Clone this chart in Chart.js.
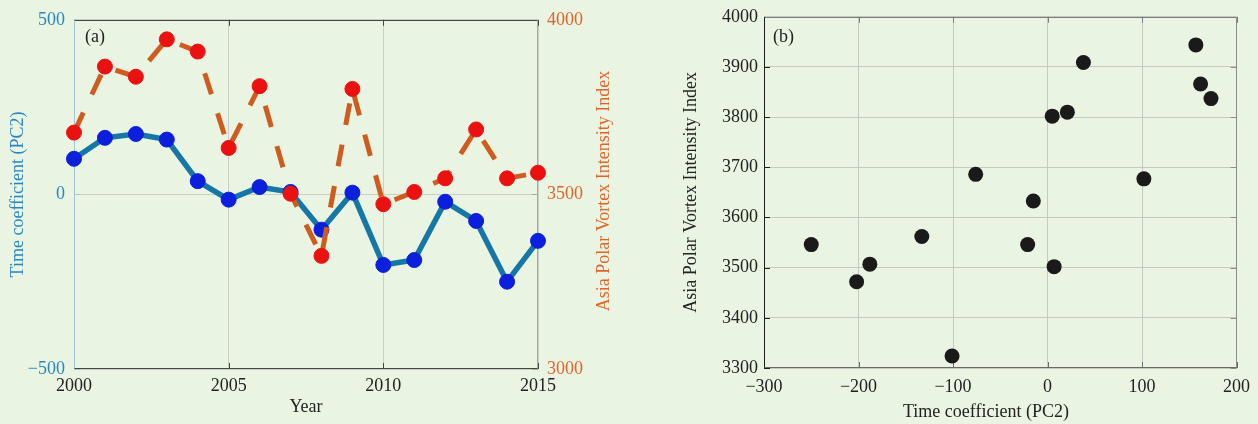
<!DOCTYPE html>
<html>
<head>
<meta charset="utf-8">
<title>PC2 and Asia Polar Vortex Intensity Index</title>
<script src="https://cdn.jsdelivr.net/npm/chart.js@4.4.1/dist/chart.umd.min.js"></script>
<style>
  html, body { margin: 0; padding: 0; background: #e9f5e2; }
  #wrap { position: relative; width: 1258px; height: 424px; overflow: hidden; background: #e9f5e2; }
  .panel { position: absolute; top: 0; height: 424px; }
  #panelA { left: 0; width: 640px; }
  #panelB { left: 640px; width: 618px; }
</style>
</head>
<body>
<div id="wrap">
  <div class="panel" id="panelA"><canvas id="chartA"></canvas></div>
  <div class="panel" id="panelB"><canvas id="chartB"></canvas></div>
</div>
<script>
// Yearly series, 2000-2015
const years = [2000, 2001, 2002, 2003, 2004, 2005, 2006, 2007,
               2008, 2009, 2010, 2011, 2012, 2013, 2014, 2015];
// Time coefficient of the second EOF mode
const pc2 = [102, 162, 173, 157, 38, -15, 21, 7,
             -101, 5, -202, -188, -21, -76, -250, -133];
// Asia Polar Vortex Intensity Index
const vortexIndex = [3677, 3866, 3837, 3944, 3909, 3633, 3810, 3502,
                     3324, 3802, 3472, 3507, 3546, 3686, 3546, 3562];

// Tick values
const yearTicks = [2000, 2005, 2010, 2015];
const pc2Ticks = [-500, 0, 500];
const indexTicks = [3000, 3500, 4000];
const scatterXTicks = [-300, -200, -100, 0, 100, 200];
const scatterYTicks = [3300, 3400, 3500, 3600, 3700, 3800, 3900, 4000];

const FONT = "'Liberation Serif', 'Times New Roman', serif";
Chart.defaults.font.family = FONT;
Chart.defaults.font.size = 18;
Chart.defaults.color = '#222222';

const fmt = v => (v < 0 ? '\u2212' + Math.abs(v) : String(v));
const fixedTicks = list => scale => { scale.ticks = list.map(v => ({ value: v })); };

// Box outline with inward tick marks on each side
const framePlugin = {
  id: 'frame',
  beforeDatasetsDraw(chart, args, o) {
    const { ctx, chartArea: a } = chart;
    const xs = chart.scales.x;
    const yl = chart.scales[o.leftScale];
    const yr = chart.scales[o.rightScale || o.leftScale];
    const L = o.tickLength;
    const seg = (c, x1, y1, x2, y2) => {
      ctx.strokeStyle = c; ctx.beginPath(); ctx.moveTo(x1, y1); ctx.lineTo(x2, y2); ctx.stroke();
    };
    ctx.save();
    ctx.lineWidth = 1;
    xs.ticks.forEach(t => {
      const px = Math.round(xs.getPixelForValue(t.value)) + 0.5;
      seg(o.top, px, a.top, px, a.top + L);
      seg(o.bottom, px, a.bottom, px, a.bottom - L);
    });
    yl.ticks.forEach(t => {
      const py = Math.round(yl.getPixelForValue(t.value)) + 0.5;
      seg(o.left, a.left, py, a.left + L, py);
    });
    yr.ticks.forEach(t => {
      const py = Math.round(yr.getPixelForValue(t.value)) + 0.5;
      seg(o.right, a.right, py, a.right - L, py);
    });
    const l = Math.round(a.left) + 0.5, r = Math.round(a.right) - 0.5;
    const t = Math.round(a.top) + 0.5, b = Math.round(a.bottom) - 0.5;
    seg(o.top, l, t, r, t);
    seg(o.bottom, l, b, r + 0.5, b);
    seg(o.left, l, t, l, b);
    seg(o.right, r, t, r, b);
    ctx.restore();
  }
};

// Free-standing captions: panel letters and titles placed by hand
const captionPlugin = {
  id: 'captions',
  afterDraw(chart, args, o) {
    const { ctx } = chart;
    (o.items || []).forEach(it => {
      ctx.save();
      ctx.font = `18px ${FONT}`;
      ctx.fillStyle = it.color || '#222222';
      ctx.textAlign = it.align || 'center';
      ctx.textBaseline = 'middle';
      ctx.translate(it.x, it.y);
      if (it.rotate) ctx.rotate(it.rotate);
      ctx.fillText(it.text, 0, 0);
      ctx.restore();
    });
  }
};

const BLUE_TXT = '#2a86c2';
const ORANGE_TXT = '#e0642a';

// (a) time series on twin y axes
new Chart(document.getElementById('chartA'), {
  type: 'line',
  data: {
    datasets: [
      {
        label: 'Asia Polar Vortex Intensity Index',
        yAxisID: 'yIndex',
        data: years.map((yr, i) => ({ x: yr, y: vortexIndex[i] })),
        borderColor: '#cf5c1f',
        borderWidth: 5,
        borderDash: [22, 20],
        borderCapStyle: 'butt',
        pointRadius: 7.5,
        pointBorderWidth: 1,
        pointBackgroundColor: '#ec1111',
        pointBorderColor: '#ec1111',
        tension: 0,
        clip: false,
        order: 0
      },
      {
        label: 'Time coefficient (PC2)',
        yAxisID: 'y',
        data: years.map((yr, i) => ({ x: yr, y: pc2[i] })),
        borderColor: '#1677a6',
        borderWidth: 5.5,
        pointRadius: 7.5,
        pointBorderWidth: 1,
        pointBackgroundColor: '#0b1fdc',
        pointBorderColor: '#0b1fdc',
        tension: 0,
        clip: false,
        order: 1
      }
    ]
  },
  options: {
    responsive: true,
    maintainAspectRatio: false,
    animation: false,
    events: [],
    layout: { padding: { top: 15, left: 0, right: 0, bottom: 0 } },
    plugins: {
      legend: { display: false },
      tooltip: { enabled: false },
      frame: { leftScale: 'y', rightScale: 'yIndex', tickLength: 6,
               top: '#444444', bottom: '#444444', left: '#a2c6d6', right: '#b3a78a' },
      captions: { items: [
        { text: '(a)', x: 85, y: 37, align: 'left' },
        { text: 'Asia Polar Vortex Intensity Index', x: 604, y: 191,
          rotate: -Math.PI / 2, color: ORANGE_TXT }
      ] }
    },
    scales: {
      x: {
        type: 'linear', min: 2000, max: 2015,
        afterBuildTicks: fixedTicks(yearTicks),
        afterFit: s => { s.height = 55; },
        grid: { color: '#c9cec6', lineWidth: 1, drawTicks: false },
        border: { display: false },
        ticks: { padding: 6, color: '#222222', callback: v => String(v), maxRotation: 0 },
        title: { display: true, text: 'Year', color: '#222222', padding: { top: 0, bottom: 6 } }
      },
      y: {
        type: 'linear', position: 'left', min: -500, max: 500,
        afterBuildTicks: fixedTicks(pc2Ticks),
        afterFit: s => { s.width = 74; },
        grid: { color: '#c9cec6', lineWidth: 1, drawTicks: false },
        border: { display: false },
        ticks: { padding: 9, color: BLUE_TXT, callback: fmt },
        title: { display: true, text: 'Time coefficient (PC2)', color: BLUE_TXT, padding: { top: 7, bottom: 0 } }
      },
      yIndex: {
        type: 'linear', position: 'right', min: 3000, max: 4000,
        afterBuildTicks: fixedTicks(indexTicks),
        afterFit: s => { s.width = 102; },
        grid: { display: false, drawTicks: false },
        border: { display: false },
        ticks: { padding: 9, color: ORANGE_TXT, callback: fmt }
      }
    }
  },
  plugins: [framePlugin, captionPlugin]
});

// (b) index against PC2
new Chart(document.getElementById('chartB'), {
  type: 'scatter',
  data: {
    datasets: [{
      label: 'Index vs PC2',
      data: pc2.map((v, i) => ({ x: v, y: vortexIndex[i] })),
      pointRadius: 7.5,
      pointBorderWidth: 0,
      pointBackgroundColor: '#1b1a1a',
      clip: false
    }]
  },
  options: {
    responsive: true,
    maintainAspectRatio: false,
    animation: false,
    events: [],
    layout: { padding: { top: 13, left: 0, right: 21, bottom: 0 } },
    plugins: {
      legend: { display: false },
      tooltip: { enabled: false },
      frame: { leftScale: 'y', tickLength: 6,
               top: '#7c7c7c', bottom: '#6a6a6a', left: '#1e1e1e', right: '#8c8c8c' },
      captions: { items: [
        { text: '(b)', x: 133, y: 37, align: 'left' },
        { text: 'Time coefficient (PC2)', x: 346, y: 412 }
      ] }
    },
    scales: {
      x: {
        type: 'linear', min: -300, max: 200,
        afterBuildTicks: fixedTicks(scatterXTicks),
        afterFit: s => { s.height = 56; },
        grid: { color: '#c3cac1', lineWidth: 1, drawTicks: false },
        border: { display: false },
        ticks: { padding: 8, color: '#222222', callback: fmt, maxRotation: 0 }
      },
      y: {
        type: 'linear', min: 3300, max: 4000,
        afterBuildTicks: fixedTicks(scatterYTicks),
        afterFit: s => { s.width = 124; },
        grid: { color: '#c3cac1', lineWidth: 1, drawTicks: false },
        border: { display: false },
        ticks: { padding: 6, color: '#222222', callback: fmt },
        title: { display: true, text: 'Asia Polar Vortex Intensity Index', color: '#222222',
                 padding: { top: 40, bottom: 0 } }
      }
    }
  },
  plugins: [framePlugin, captionPlugin]
});
</script>
</body>
</html>
